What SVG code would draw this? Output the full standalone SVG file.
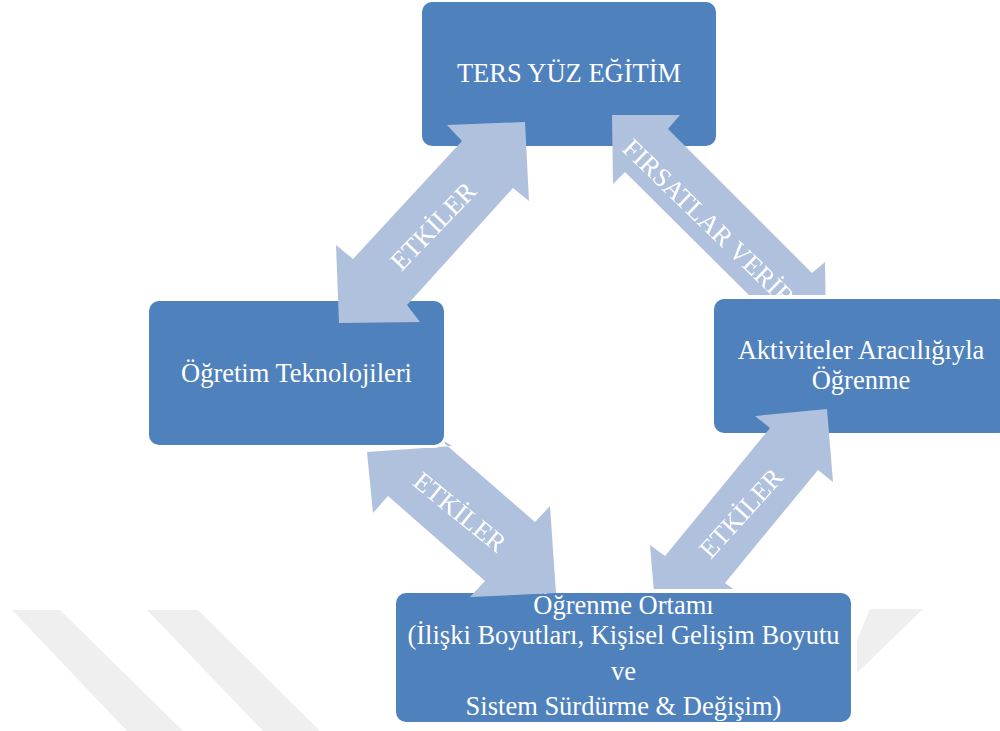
<svg xmlns="http://www.w3.org/2000/svg" width="1000" height="731" viewBox="0 0 1000 731">
<style>
.box{fill:#4f81bd}
.arr{fill:#b0c1de}
.wm{fill:#efefef}
.t{font-family:"Liberation Serif","Times New Roman",serif;font-size:26.5px;fill:#ffffff;text-anchor:middle}
</style>
<defs>
<mask id="mR" maskUnits="userSpaceOnUse" x="0" y="0" width="1000" height="731">
<rect width="1000" height="731" fill="#fff"/>
<rect x="710" y="295" width="302" height="142" rx="13" fill="#000"/>
</mask>
<mask id="mL" maskUnits="userSpaceOnUse" x="0" y="0" width="1000" height="731">
<rect width="1000" height="731" fill="#fff"/>
<rect x="146" y="298" width="301" height="150" rx="13" fill="#000"/>
</mask>
<mask id="mB" maskUnits="userSpaceOnUse" x="0" y="0" width="1000" height="731">
<rect width="1000" height="731" fill="#fff"/>
<rect x="392" y="589" width="463" height="137" rx="13" fill="#000"/>
</mask>
</defs>
<rect width="1000" height="731" fill="#ffffff"/>
<g id="watermark">
<polygon class="wm" points="12,610 60,610 183,731 127,731"/>
<polygon class="wm" points="147,610 198,610 320,731 263,731"/>
<polygon class="wm" points="870,609 923,609 857,673 857,640"/>
</g>
<g id="node-top">
<rect class="box" x="422" y="2" width="294" height="144" rx="10"/>
<text class="t" x="569" y="82">TERS YÜZ EĞİTİM</text>
</g>
<g id="node-left">
<rect class="box" x="149" y="301" width="295" height="144" rx="10"/>
<text class="t" x="296.5" y="382">Öğretim Teknolojileri</text>
</g>
<g id="node-right">
<rect class="box" x="714" y="299" width="294" height="134" rx="10"/>
<text class="t" x="861" y="359">Aktiviteler Aracılığıyla</text>
<text class="t" x="861" y="389">Öğrenme</text>
</g>
<g id="node-bottom">
<rect class="box" x="396" y="593" width="455" height="129" rx="10"/>
<text class="t" x="623.5" y="614">Öğrenme Ortamı</text>
<text class="t" x="623.5" y="644">(İlişki Boyutları, Kişisel Gelişim Boyutu</text>
<text class="t" x="623.5" y="680">ve</text>
<text class="t" x="623.5" y="715">Sistem Sürdürme &amp; Değişim)</text>
</g>
<g id="connectors">
<g id="arrow-top-left">
<polygon class="arr" points="525,122 529,201 513,188 407,305 420,322 339,323 336,245 353,259 462,141 447,125"/>
<text class="t" transform="translate(433,226) rotate(-46)" x="0" y="9">ETKİLER</text>
</g>
<g id="arrow-top-right" mask="url(#mR)">
<polygon class="arr" points="612,115 680,115 668,129 812,273 825,262 826,329 758,329 770,316 625,172 613,184"/>
<text class="t" style="text-anchor:start" transform="translate(621,150) rotate(44)" x="0" y="0">FIRSATLAR VERİR</text>
</g>
<g id="arrow-bottom-left" mask="url(#mL)">
<polygon class="arr" points="367,452 373,513 388,496 485,581 470,597 556,593 550,506 535,522 436,436 452,446"/>
<text class="t" transform="translate(460,512) rotate(39)" x="0" y="9">ETKİLER</text>
</g>
<g id="arrow-bottom-right" mask="url(#mB)">
<polygon class="arr" points="827,409 833,482 818,470 725,583 740,594 656,618 650,545 665,556 770,428 755,416"/>
<text class="t" transform="translate(741,513) rotate(-48)" x="0" y="9">ETKİLER</text>
</g>
</g>
</svg>
